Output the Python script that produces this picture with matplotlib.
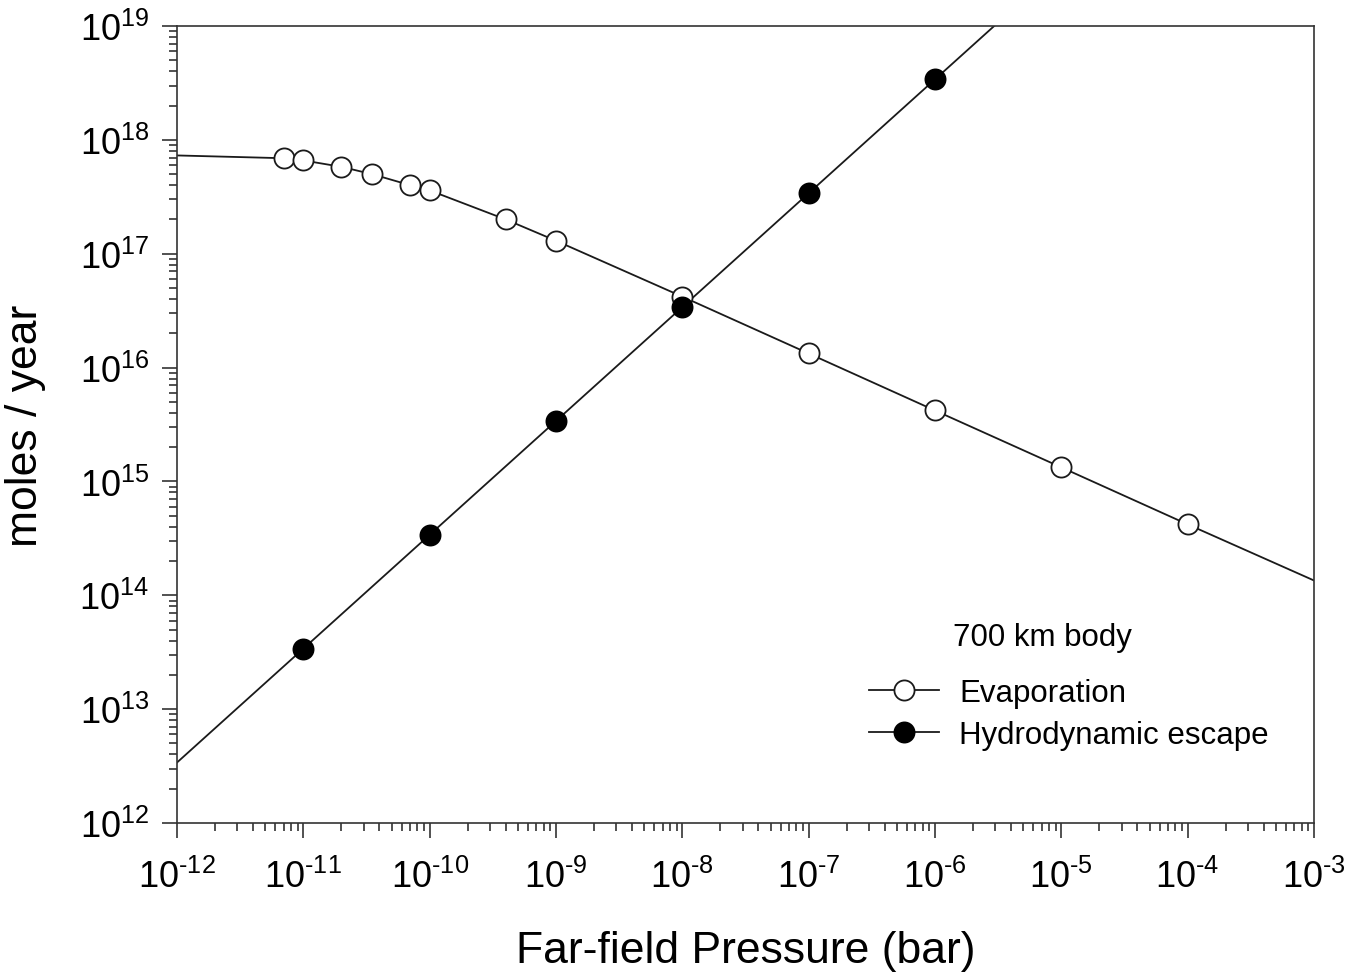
import matplotlib.pyplot as plt
import numpy as np

plt.rcParams['font.family'] = ['Liberation Sans', 'DejaVu Sans']
plt.rcParams['mathtext.fontset'] = 'custom'
plt.rcParams['mathtext.rm'] = 'Liberation Sans'

# data
evap_p = [7e-12, 1e-11, 2e-11, 3.5e-11, 7e-11, 1e-10, 4e-10, 1e-9, 1e-8, 1e-7, 1e-6, 1e-5, 1e-4]
evap_rate = [6.9e17, 6.6e17, 5.8e17, 5.0e17, 4.0e17, 3.6e17, 2.0e17, 1.3e17, 4.2e16, 1.33e16, 4.2e15, 1.33e15, 4.2e14]
# curve ends (beyond the marked points)
evap_line_p = [1e-12] + evap_p + [1e-3]
evap_line_rate = [7.3e17] + evap_rate + [1.35e14]

hydro_p = [1e-11, 1e-10, 1e-9, 1e-8, 1e-7, 1e-6]
hydro_rate = [3.4e13, 3.4e14, 3.4e15, 3.4e16, 3.4e17, 3.4e18]
hydro_line_p = [1e-12] + hydro_p + [3e-6]
hydro_line_rate = [3.4e12] + hydro_rate + [1.02e19]

x_exp = list(range(-12, -2))
y_exp = list(range(12, 20))

fig = plt.figure(figsize=(13.68, 9.79), dpi=100)
ax = fig.add_axes([0.1294, 0.1583, 0.8311, 0.8141])

ax.plot(evap_line_p, evap_line_rate, color='#1a1a1a', lw=1.3, zorder=2)
ax.plot(hydro_line_p, hydro_line_rate, color='#1a1a1a', lw=1.3, zorder=2)
ax.plot(evap_p, evap_rate, 'o', ms=14.5, mfc='white', mec='#1a1a1a', mew=1.3, zorder=3)
ax.plot(hydro_p, hydro_rate, 'o', ms=14.5, mfc='black', mec='black', mew=1.3, zorder=3)

ax.set_xscale('log')
ax.set_yscale('log')
ax.set_xlim(1e-12, 1e-3)
ax.set_ylim(1e12, 1e19)

ax.set_xticks([10.0**e for e in x_exp])
ax.set_xticklabels([r'$\mathregular{10^{%s}}$' % str(e).replace('-', '\u2010') for e in x_exp])
ax.set_yticks([10.0**e for e in y_exp])
ax.set_yticklabels([r'$\mathregular{10^{%d}}$' % e for e in y_exp])

ax.tick_params(which='both', direction='out', top=False, right=False, width=1.2, color='#333333')
ax.tick_params(which='major', length=11, labelsize=26)
ax.tick_params(axis='x', which='major', pad=15)
ax.tick_params(axis='y', which='major', pad=9)
ax.tick_params(which='minor', length=6)
for s in ax.spines.values():
    s.set_linewidth(1.2)
    s.set_color('#333333')

ax.set_xlabel('Far-field Pressure (bar)', fontsize=32)
ax.xaxis.set_label_coords(0.5, -0.134)
ax.set_ylabel('moles / year', fontsize=32, labelpad=24)

ax.text(0.6825, 0.2334, '700 km body', transform=ax.transAxes, fontsize=22.5, va='center')
h1, = ax.plot([], [], '-o', color='#1a1a1a', ms=14.5, mfc='white', mew=1.3, lw=1.3)
h2, = ax.plot([], [], '-o', color='#1a1a1a', ms=14.5, mfc='black', mec='black', mew=1.3, lw=1.3)
ax.legend([h1, h2], ['Evaporation', 'Hydrodynamic escape'], loc='upper left',
          bbox_to_anchor=(0.584, 0.217), frameon=False, fontsize=22.5,
          handlelength=2.25, handletextpad=0.63, labelspacing=0.38)

fig.savefig('out.png', dpi=100)
